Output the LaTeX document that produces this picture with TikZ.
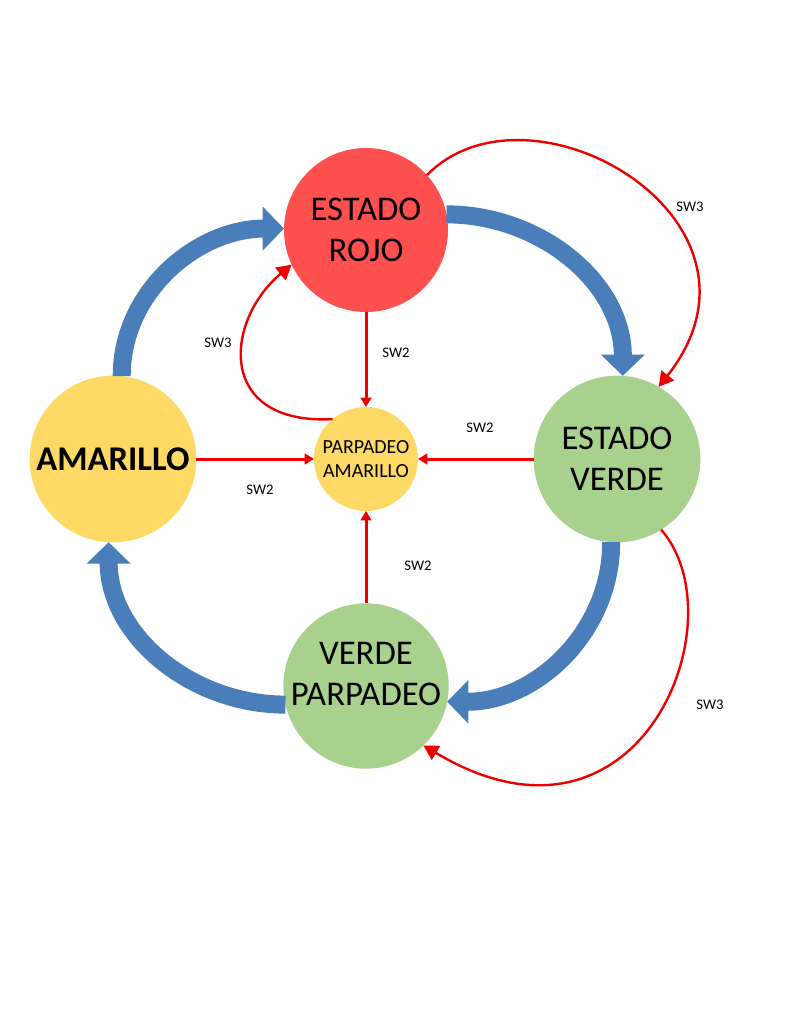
\documentclass[tikz,border=0pt]{standalone}
\usepackage{fontspec}
\setmainfont{Carlito}
\usetikzlibrary{arrows.meta}
\definecolor{rojofill}{HTML}{FF5050}
\definecolor{verdefill}{HTML}{A9D18E}
\definecolor{amarfill}{HTML}{FFD966}
\definecolor{flowblue}{HTML}{4A7EBB}
\definecolor{swred}{HTML}{EE0000}
\begin{document}
\begin{tikzpicture}[x=0.75pt,y=0.75pt,
  stnode/.style={circle,inner sep=0pt,outer sep=0pt,align=center,text=black},
  bigtext/.style={font=\fontsize{26}{31}\selectfont},
  flow/.style={draw=flowblue,line width=13.5pt,-{Triangle[width=32pt,length=16pt]}},
  swtwo/.style={draw=swred,line width=2.25pt,-{Triangle[width=8pt,length=7pt]}},
  swthree/.style={draw=swred,line width=1.8pt,-{Triangle[width=12pt,length=11pt]}},
  lbl/.style={font=\fontsize{11}{13}\selectfont}]
  % canvas
  \path[fill=white] (0,0) rectangle (800,-1020);

  % states
  \node[stnode,bigtext,fill=rojofill,minimum size=123pt]
    (roj) at (366,-230) {ESTADO\\ROJO};
  \node[stnode,bigtext,fill=verdefill,minimum size=125pt]
    (ver) at (617,-459) {ESTADO\\VERDE};
  \node[stnode,fill=verdefill,minimum size=124pt]
    (vpa) at (366,-686) {};
  \node[bigtext,align=center,inner sep=0pt] (vpatext) at (366,-674) {VERDE\\PARPADEO};
  \node[stnode,fill=amarfill,minimum size=125pt,font=\fontsize{26}{31}\selectfont\bfseries]
    (ama) at (113,-459) {AMARILLO};
  \node[stnode,fill=amarfill,minimum size=78pt,font=\fontsize{15}{18}\selectfont]
    (par) at (366,-459) {PARPADEO\\AMARILLO};

  % main cycle
  \draw[flow] (ama.84) to[out=90,in=180] (roj.179);
  \draw[flow] (roj.11) to[out=0,in=90] (ver.86);
  \draw[flow] (ver.266) to[out=-90,in=0] (vpa.-11);
  \draw[flow] (vpa.193) to[out=180,in=-90] (ama.267);

  % SW2 transitions into the blinking yellow state
  \draw[swtwo] (roj) -- (par);
  \draw[swtwo] (ama) -- (par);
  \draw[swtwo] (ver) -- (par);
  \draw[swtwo] (vpa) -- (par);
  \node[lbl] (l1) at (396,-353) {SW2};
  \node[lbl] (l2) at (260,-490) {SW2};
  \node[lbl] (l3) at (480,-428) {SW2};
  \node[lbl] (l4) at (418,-566) {SW2};

  % SW3 transitions
  \draw[swthree] (par.130) .. controls (215,-425) and (225,-320) .. (roj.205);
  \draw[swthree] (roj.42) .. controls (530,-70) and (790,-220) .. (ver.60);
  \draw[swthree] (ver.-58) .. controls (740,-620) and (640,-875) .. (vpa.-46);
  \node[lbl] (l5) at (218,-343) {SW3};
  \node[lbl] (l6) at (690,-207) {SW3};
  \node[lbl] (l7) at (710,-705) {SW3};
\end{tikzpicture}
\end{document}
